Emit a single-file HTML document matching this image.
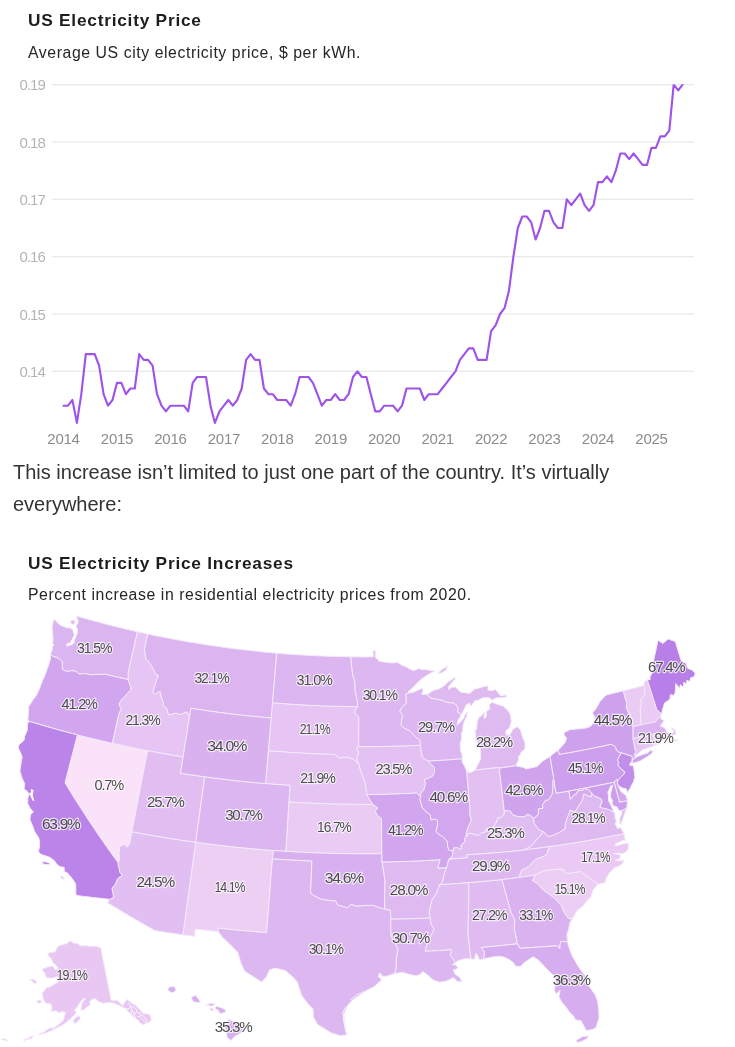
<!DOCTYPE html>
<html lang="en"><head><meta charset="utf-8"><title>US Electricity Price</title>
<style>
html,body{margin:0;padding:0;background:#fff}
body{width:735px;height:1047px;overflow:hidden;position:relative;font-family:"Liberation Sans",sans-serif;color:#222}
.t{position:absolute;left:28px;font-weight:bold;font-size:17.3px;line-height:20px;color:#1d1d1d;white-space:nowrap;letter-spacing:.76px}
.s{position:absolute;left:28px;font-size:15.8px;line-height:20px;color:#262626;white-space:nowrap;letter-spacing:.58px}
.p{position:absolute;left:13px;top:456.2px;width:640px;font-size:20px;line-height:32px;color:#333;margin:0}
svg{position:absolute;left:0;top:0}
.g line{stroke:#e3e3e3;stroke-width:1.05}
.yl text{font-size:15px;fill:#b4b4b4;text-anchor:end;letter-spacing:-1px}
.xl text{font-size:15px;fill:#8c8c8c;text-anchor:middle;letter-spacing:-.25px}
.st path{stroke:#f5eafb;stroke-width:1;stroke-linejoin:round}
.lb text{font-size:15px;fill:#4c4c4c;paint-order:stroke;stroke:rgba(255,255,255,.7);stroke-width:2.4px;stroke-linejoin:round;letter-spacing:-1.2px}
</style></head><body>
<div class="t" style="top:10px">US Electricity Price</div>
<div class="s" style="top:43px">Average US city electricity price, $ per kWh.</div>
<p class="p">This increase isn’t limited to just one part of the country. It’s virtually everywhere:</p>
<div class="t" style="top:553.1px">US Electricity Price Increases</div>
<div class="s" style="top:585px">Percent increase in residential electricity prices from 2020.</div>
<svg width="735" height="1047" viewBox="0 0 735 1047" font-family="Liberation Sans, sans-serif">
<g class="g"><line x1="52" x2="694" y1="371.3" y2="371.3"/><line x1="52" x2="694" y1="314.0" y2="314.0"/><line x1="52" x2="694" y1="256.7" y2="256.7"/><line x1="52" x2="694" y1="199.3" y2="199.3"/><line x1="52" x2="694" y1="142.0" y2="142.0"/><line x1="52" x2="694" y1="84.7" y2="84.7"/></g>
<g class="yl"><text x="44.8" y="376.9">0.14</text><text x="44.8" y="319.6">0.15</text><text x="44.8" y="262.3">0.16</text><text x="44.8" y="204.9">0.17</text><text x="44.8" y="147.6">0.18</text><text x="44.8" y="90.3">0.19</text></g>
<g class="xl"><text x="63.5" y="444.4">2014</text><text x="117.0" y="444.4">2015</text><text x="170.4" y="444.4">2016</text><text x="223.9" y="444.4">2017</text><text x="277.3" y="444.4">2018</text><text x="330.8" y="444.4">2019</text><text x="384.2" y="444.4">2020</text><text x="437.7" y="444.4">2021</text><text x="491.1" y="444.4">2022</text><text x="544.5" y="444.4">2023</text><text x="598.0" y="444.4">2024</text><text x="651.5" y="444.4">2025</text></g>
<clipPath id="cl"><rect x="50" y="84.3" width="660" height="350"/></clipPath><path d="M63.5,405.7L68.0,405.7L72.4,400.0L76.9,422.9L81.3,394.2L85.8,354.1L90.2,354.1L94.7,354.1L99.1,365.6L103.6,394.2L108.0,405.7L112.5,400.0L117.0,382.8L121.4,382.8L125.9,394.2L130.3,388.5L134.8,388.5L139.2,354.1L143.7,359.8L148.1,359.8L152.6,365.6L157.0,394.2L161.5,405.7L165.9,411.4L170.4,405.7L174.9,405.7L179.3,405.7L183.8,405.7L188.2,411.4L192.7,382.8L197.1,377.0L201.6,377.0L206.0,377.0L210.5,405.7L214.9,422.9L219.4,411.4L223.9,405.7L228.3,400.0L232.8,405.7L237.2,400.0L241.7,388.5L246.1,359.8L250.6,354.1L255.0,359.8L259.5,359.8L263.9,388.5L268.4,394.2L272.8,394.2L277.3,400.0L281.8,400.0L286.2,400.0L290.7,405.7L295.1,394.2L299.6,377.0L304.0,377.0L308.5,377.0L312.9,382.8L317.4,394.2L321.8,405.7L326.3,400.0L330.8,400.0L335.2,394.2L339.7,400.0L344.1,400.0L348.6,394.2L353.0,377.0L357.5,371.3L361.9,377.0L366.4,377.0L370.8,394.2L375.3,411.4L379.7,411.4L384.2,405.7L388.7,405.7L393.1,405.7L397.6,411.4L402.0,405.7L406.5,388.5L410.9,388.5L415.4,388.5L419.8,388.5L424.3,400.0L428.7,394.2L433.2,394.2L437.7,394.2L442.1,388.5L446.6,382.8L451.0,377.0L455.5,371.3L459.9,359.8L464.4,354.1L468.8,348.4L473.3,348.4L477.7,359.8L482.2,359.8L486.6,359.8L491.1,331.2L495.6,325.4L500.0,314.0L504.5,308.2L508.9,291.1L513.4,256.7L517.8,228.0L522.3,216.5L526.7,216.5L531.2,222.3L535.6,239.5L540.1,228.0L544.5,210.8L549.0,210.8L553.5,222.3L557.9,228.0L562.4,228.0L566.8,199.3L571.3,205.1L575.7,199.3L580.2,193.6L584.6,205.1L589.1,210.8L593.5,205.1L598.0,182.1L602.5,182.1L606.9,176.4L611.4,182.1L615.8,170.7L620.3,153.5L624.7,153.5L629.2,159.2L633.6,153.5L638.1,159.2L642.5,164.9L647.0,164.9L651.5,147.8L655.9,147.8L660.4,136.3L664.8,136.3L669.3,130.6L673.7,84.7L678.2,90.4L682.6,84.7" clip-path="url(#cl)" fill="none" stroke="#9f54e7" stroke-width="2.15" stroke-linejoin="round" stroke-linecap="round"/>
<g class="st"><path d="M77.4,734.9L82.3,736.2L87.3,737.4L92.3,738.6L97.3,739.8L102.2,741.0L107.2,742.2L112.2,743.3L117.3,744.4L122.3,745.5L127.3,746.6L132.4,747.7L137.4,748.7L142.5,749.7L147.6,750.7L146.3,757.4L145.0,764.2L143.6,770.9L142.3,777.7L141.0,784.4L139.7,791.2L138.4,797.9L137.1,804.7L135.8,811.4L134.5,818.2L133.2,824.9L131.9,831.7L129.4,844.7L126.9,847.2L124.7,844.6L119.9,845.9L119.1,852.8L119.3,860.4L118.1,862.7L114.5,857.7L111.0,852.8L107.5,847.9L104.0,842.9L100.6,838.0L97.2,833.0L93.9,828.0L90.5,823.0L87.2,818.0L84.0,813.0L80.7,808.0L77.5,803.0L74.3,798.0L71.2,792.9L68.1,787.9L65.0,782.8L66.8,776.0L68.6,769.1L70.3,762.3L72.1,755.4L73.9,748.6L75.6,741.7Z" fill="#fae3f8"/><path d="M195.7,842.2L200.9,842.9L206.0,843.6L211.2,844.3L216.4,844.9L221.6,845.5L226.8,846.1L231.9,846.7L237.1,847.3L242.3,847.8L247.5,848.3L252.7,848.8L257.9,849.2L263.1,849.7L268.3,850.1L273.5,850.5L272.4,858.7L271.9,865.4L271.3,872.1L270.8,878.9L270.3,885.6L269.8,892.3L269.3,899.1L268.7,905.8L268.2,912.5L267.7,919.2L267.2,925.9L266.6,932.6L260.5,932.2L254.4,931.7L248.3,931.1L242.1,930.6L236.0,930.0L229.9,929.4L223.8,928.7L217.7,928.1L218.5,931.8L212.8,931.1L207.0,930.5L201.2,929.8L195.4,929.0L194.5,936.4L188.7,935.6L182.9,934.8L183.8,928.2L184.7,921.6L185.6,915.0L186.5,908.4L187.5,901.8L188.4,895.2L189.3,888.6L190.2,882.0L191.1,875.4L192.0,868.7L192.9,862.1L193.9,855.5L194.8,848.9Z" fill="#edcff4"/><path d="M534.9,875.2L543.6,870.7L549.6,870.1L555.6,869.4L561.6,868.8L561.8,870.4L563.1,869.4L565.8,873.6L573.2,872.6L580.5,871.5L586.3,875.7L592.1,879.9L598.0,884.1L592.9,890.2L591.3,896.4L587.2,900.4L583.2,905.8L577.1,910.5L574.2,915.6L572.2,919.1L568.4,918.6L563.3,911.0L560.9,904.7L553.7,897.8L549.0,894.0L543.8,890.6L537.4,883.5L532.3,880.6Z" fill="#eccdf4"/><path d="M288.9,801.9L294.2,802.2L299.4,802.5L304.6,802.8L309.8,803.0L315.1,803.2L320.3,803.5L325.5,803.6L330.7,803.8L336.0,803.9L341.2,804.0L346.4,804.1L351.7,804.2L356.9,804.2L362.1,804.3L367.4,804.3L372.6,804.2L377.7,807.8L375.3,811.6L377.8,815.7L381.5,818.8L381.6,825.8L381.6,832.8L381.7,839.7L381.8,846.7L381.9,853.7L376.5,853.8L371.2,853.8L365.8,853.8L360.5,853.8L355.2,853.8L349.8,853.7L344.5,853.7L339.1,853.6L333.8,853.4L328.5,853.3L323.1,853.1L317.8,852.9L312.5,852.7L307.1,852.5L301.8,852.2L296.4,852.0L291.1,851.7L285.8,851.3L286.2,844.3L286.7,837.2L287.1,830.1L287.6,823.1L288.0,816.0L288.5,808.9Z" fill="#eacbf4"/><path d="M623.3,690.8L628.4,689.5L633.6,688.2L638.7,686.9L643.9,685.5L644.3,687.3L644.5,692.3L645.3,694.0L644.2,695.8L640.8,699.2L641.2,700.8L641.5,704.1L640.2,708.7L640.5,714.6L640.8,718.2L640.8,723.0L642.3,724.6L637.6,725.6L632.9,726.6L631.4,720.2L630.0,713.8L628.5,713.0L627.3,710.2L626.2,707.1L626.7,702.8L624.8,697.3Z" fill="#eacbf4"/><path d="M643.9,685.5L644.2,682.2L647.3,679.7L649.3,686.0L651.3,692.2L653.6,699.3L655.8,706.3L656.6,709.5L659.0,711.4L661.2,713.9L660.7,717.4L658.6,718.0L656.3,720.8L655.9,721.6L649.1,723.1L642.3,724.6L640.8,723.0L640.8,718.2L640.5,714.6L640.2,708.7L641.5,704.1L641.2,700.8L640.8,699.2L644.2,695.8L645.3,694.0L644.5,692.3L644.3,687.3Z" fill="#eacbf4"/><path d="M518.8,877.5L521.5,870.3L528.4,866.6L535.4,859.3L539.1,858.0L546.0,855.3L549.6,846.6L555.0,845.8L560.3,845.0L565.6,844.2L571.0,843.3L576.3,842.5L581.6,841.6L587.0,840.7L592.3,839.7L597.6,838.8L602.9,837.8L608.2,836.8L613.5,835.7L618.8,834.7L624.1,833.6L624.6,837.7L625.5,840.6L623.1,840.1L620.1,841.7L615.2,843.9L615.6,845.9L619.5,845.1L624.5,843.6L628.2,843.2L628.3,848.7L626.2,851.7L622.6,853.7L619.1,853.2L613.1,853.6L617.4,854.4L620.8,854.9L619.6,858.7L615.2,860.3L620.1,861.1L623.9,859.8L622.6,863.4L619.7,865.7L614.6,867.6L609.5,872.8L605.6,879.5L605.3,882.6L598.0,884.1L592.1,879.9L586.3,875.7L580.5,871.5L573.2,872.6L565.8,873.6L563.1,869.4L561.8,870.4L561.6,868.8L555.6,869.4L549.6,870.1L543.6,870.7L534.9,875.2L529.5,876.0L524.2,876.7Z" fill="#eacaf4"/><path d="M100.8,947.9L98.0,947.1L95.4,946.2L92.9,946.3L90.4,946.4L87.9,946.1L85.4,945.7L83.0,945.8L80.5,945.8L77.5,943.6L75.6,943.4L73.7,943.1L71.8,942.0L70.0,940.8L67.0,943.4L65.0,944.0L63.0,944.5L59.1,945.8L56.6,948.6L55.8,951.1L52.9,952.6L49.3,952.4L47.5,955.1L50.0,957.3L51.8,959.6L53.0,963.3L55.3,964.5L56.9,966.7L58.5,968.9L55.4,969.7L52.6,966.1L49.7,966.7L46.8,967.2L44.2,968.6L41.5,969.9L45.0,973.0L45.4,976.2L47.6,977.8L50.1,978.0L52.5,978.2L57.2,976.5L58.0,978.3L57.6,982.5L54.0,984.4L51.2,986.4L46.5,987.8L43.7,991.4L42.0,993.4L42.8,996.5L43.4,999.8L46.2,1003.4L50.5,1003.7L51.9,1006.8L51.8,1009.7L50.5,1011.8L55.8,1010.7L59.8,1013.1L61.4,1011.4L65.8,1012.6L64.4,1015.9L63.6,1019.9L60.3,1023.2L57.1,1025.6L53.8,1028.0L49.6,1028.2L46.1,1030.2L43.8,1032.4L39.0,1033.5L39.5,1034.6L45.0,1033.5L48.6,1031.7L52.0,1030.4L55.4,1028.7L60.7,1025.9L65.3,1023.3L68.5,1020.3L71.6,1017.8L74.0,1015.3L76.7,1012.2L74.1,1010.5L77.5,1006.7L79.4,1003.2L81.1,1001.2L82.6,999.4L85.6,998.1L84.9,999.8L82.2,1002.0L81.3,1007.2L80.6,1010.1L83.7,1010.0L87.3,1006.6L90.3,1005.2L89.7,1001.5L92.6,999.2L95.3,998.4L97.8,1001.3L100.6,1002.3L103.1,1003.4L107.2,1002.5L110.4,1002.5L113.8,1003.2L116.0,1003.9L119.4,1005.5L121.8,1006.7L126.4,1009.1L127.6,1011.2L130.4,1013.4L132.5,1016.0L135.4,1018.7L137.8,1019.5L140.2,1023.0L144.0,1024.9L146.4,1022.7L149.5,1022.6L151.4,1019.1L149.9,1015.3L149.2,1014.3L145.7,1013.9L143.0,1013.6L141.5,1011.4L140.2,1010.0L135.3,1005.1L132.1,1003.6L128.8,1000.7L127.0,999.4L124.9,1002.1L122.7,1005.6L118.0,1001.1L116.4,1000.3L112.6,1000.4L111.1,1000.3L110.0,994.4L108.8,988.6L107.7,982.7L106.5,976.9L105.4,971.0L104.2,965.2L103.0,959.4L101.9,953.6ZM72.8,1021.1L75.3,1023.7L79.0,1020.5L80.4,1018.7L79.2,1015.9L77.1,1016.5L74.6,1018.5ZM36.9,1000.6L40.5,1000.1L41.5,1002.1L39.6,1003.5L36.9,1002.1ZM29.8,979.4L33.8,979.3L37.2,982.5L34.6,983.6L31.6,980.8ZM27.4,1038.7L31.7,1036.1L33.7,1036.5L31.2,1038.7L27.6,1039.4ZM23.0,1040.7L27.2,1037.8L27.8,1038.5L24.5,1040.7ZM0.9,1039.3L5.5,1038.9L8.5,1041.0L5.0,1040.6ZM-8.8,1037.9L-4.0,1038.2L-2.1,1039.4L-5.9,1039.3ZM-15.0,1037.1L-8.7,1036.7L-8.8,1037.9L-13.2,1038.4ZM-36.1,1017.5L-33.3,1018.8L-33.2,1020.1L-35.9,1018.6ZM-20.8,1035.2L-17.9,1034.6L-17.7,1035.3L-20.6,1035.6Z" fill="#e8c7f3"/><path d="M632.9,738.5L637.9,737.4L642.9,736.3L647.9,735.1L652.9,734.0L655.4,743.5L655.1,745.3L649.5,747.6L643.1,749.6L639.9,752.0L635.1,756.1L633.8,754.4L636.4,752.0L635.2,750.6Z" fill="#e6c5f3"/><path d="M652.9,734.0L657.8,732.7L658.3,734.6L659.4,736.4L661.3,737.5L663.1,740.2L661.1,741.2L659.4,738.6L659.5,742.5L659.4,743.5L655.1,745.3L655.4,743.5Z" fill="#e6c5f3"/><path d="M272.4,702.7L277.2,703.1L281.9,703.5L286.6,703.8L291.3,704.2L296.1,704.5L300.8,704.8L305.5,705.0L310.3,705.3L315.0,705.5L319.7,705.7L324.5,705.9L329.2,706.0L333.9,706.2L338.7,706.3L343.4,706.4L348.2,706.5L352.9,706.5L357.6,706.6L354.4,712.1L358.8,717.1L358.8,724.4L358.8,731.8L358.7,739.2L358.7,746.6L356.9,747.4L358.7,753.2L356.5,758.9L358.6,763.2L356.5,762.2L353.3,759.2L347.3,757.0L340.1,758.3L334.3,754.4L329.2,754.3L324.1,754.1L319.0,753.9L314.0,753.7L308.9,753.5L303.8,753.2L298.8,752.9L293.7,752.6L288.6,752.3L283.5,751.9L278.5,751.6L273.4,751.2L268.4,750.8L268.9,744.2L269.5,737.7L270.0,731.1L270.6,724.6L271.1,718.0L271.8,710.4Z" fill="#e6c4f3"/><path d="M137.3,631.7L142.5,632.8L147.7,634.0L146.0,642.0L144.3,650.1L146.1,659.3L150.0,663.4L153.0,668.2L155.8,674.6L158.5,675.1L156.0,682.1L154.3,687.6L152.7,692.1L155.4,694.0L160.1,691.4L161.6,698.2L163.7,702.7L163.2,705.6L166.8,708.3L168.6,714.9L175.4,713.1L180.5,714.5L185.3,712.2L187.3,712.3L189.5,716.8L188.4,723.5L187.4,730.2L186.3,736.9L185.2,743.5L184.2,750.2L183.1,756.9L178.0,756.1L172.9,755.3L167.9,754.4L162.8,753.5L157.7,752.6L152.6,751.6L147.6,750.7L142.5,749.7L137.4,748.7L132.4,747.7L127.3,746.6L122.3,745.5L117.3,744.4L112.2,743.3L113.9,735.9L115.6,728.4L117.2,721.0L118.9,713.6L121.2,708.7L120.1,707.2L119.1,703.6L121.9,699.2L124.9,696.5L127.7,692.9L130.8,690.2L130.6,686.8L128.9,682.3L127.9,679.5L128.2,676.3L128.0,672.5L129.6,665.7L131.1,658.9L132.7,652.1L134.3,645.3L135.8,638.5Z" fill="#e6c4f3"/><path d="M268.4,750.8L273.4,751.2L278.5,751.6L283.5,751.9L288.6,752.3L293.7,752.6L298.8,752.9L303.8,753.2L308.9,753.5L314.0,753.7L319.0,753.9L324.1,754.1L329.2,754.3L334.3,754.4L340.1,758.3L347.3,757.0L353.3,759.2L356.5,762.2L358.6,763.2L359.8,768.0L362.8,776.2L364.9,782.8L365.9,787.8L366.8,794.7L369.6,799.3L372.6,804.2L367.4,804.3L362.1,804.3L356.9,804.2L351.7,804.2L346.4,804.1L341.2,804.0L336.0,803.9L330.7,803.8L325.5,803.6L320.3,803.5L315.1,803.2L309.8,803.0L304.6,802.8L299.4,802.5L294.2,802.2L288.9,801.9L289.5,793.6L290.0,785.4L285.1,785.1L280.2,784.7L275.3,784.4L270.4,784.0L265.6,783.6L266.1,777.0L266.7,770.4L267.2,763.9L267.8,757.3Z" fill="#e5c3f2"/><path d="M358.7,746.6L363.5,746.6L368.2,746.6L373.0,746.6L377.7,746.5L382.5,746.4L387.2,746.4L392.0,746.2L396.7,746.1L401.5,746.0L406.2,745.8L411.0,745.6L415.7,745.4L420.4,745.2L421.3,751.7L422.5,757.4L428.2,761.2L431.0,764.4L434.5,767.5L434.5,772.4L432.6,776.2L429.6,777.7L424.3,779.6L425.7,783.7L424.1,789.3L420.7,793.8L420.6,796.6L416.6,793.0L411.6,793.3L406.6,793.5L401.7,793.7L396.7,793.9L391.7,794.1L386.7,794.3L381.8,794.4L376.8,794.5L371.8,794.6L366.8,794.7L365.9,787.8L364.9,782.8L362.8,776.2L359.8,768.0L358.6,763.2L356.5,758.9L358.7,753.2L356.9,747.4Z" fill="#e3c1f2"/><path d="M466.5,770.7L469.1,772.7L473.0,771.4L475.0,769.9L479.9,769.4L484.7,768.9L489.5,768.4L494.3,767.8L499.1,767.3L499.2,768.3L500.1,775.4L500.9,782.5L501.8,789.6L502.6,796.7L503.4,803.8L504.3,810.9L504.3,814.2L500.3,818.0L497.7,817.8L496.9,821.7L494.1,825.8L492.3,830.5L489.3,830.8L486.7,828.1L485.2,832.1L481.7,832.9L477.8,835.6L471.6,833.4L467.4,834.0L467.2,836.5L465.9,836.3L466.5,831.3L468.6,826.1L471.3,820.1L469.5,814.5L470.0,810.3L469.4,803.7L468.8,797.1L468.2,790.5L467.7,783.9L467.1,777.3Z" fill="#e3c0f2"/><path d="M131.9,831.7L137.2,832.7L142.5,833.7L147.8,834.7L153.1,835.6L158.4,836.5L163.7,837.4L169.0,838.3L174.4,839.1L179.7,839.9L185.0,840.7L190.3,841.5L195.7,842.2L194.8,848.9L193.9,855.5L192.9,862.1L192.0,868.7L191.1,875.4L190.2,882.0L189.3,888.6L188.4,895.2L187.5,901.8L186.5,908.4L185.6,915.0L184.7,921.6L183.8,928.2L182.9,934.8L177.3,934.0L171.8,933.2L166.2,932.4L160.6,931.5L155.1,930.7L149.7,927.6L144.4,924.6L139.0,921.5L133.7,918.5L128.5,915.4L123.2,912.2L118.0,909.1L112.8,905.9L107.6,902.7L109.5,899.3L113.3,897.8L113.2,894.8L112.0,888.3L115.4,884.0L117.7,878.5L122.3,875.2L119.7,872.2L119.4,869.6L118.2,866.0L118.1,862.7L119.3,860.4L119.1,852.8L119.9,845.9L124.7,844.6L126.9,847.2L129.4,844.7Z" fill="#e2bff2"/><path d="M439.7,884.6L445.3,884.2L450.8,883.8L456.4,883.5L462.0,883.0L467.5,882.6L469.0,884.1L468.9,891.2L468.8,898.3L468.6,905.4L468.5,912.5L468.3,919.6L468.2,926.7L468.0,933.8L469.0,942.1L470.0,950.4L471.0,958.7L463.9,958.9L457.7,960.9L455.3,963.0L453.4,959.5L450.3,955.3L451.6,949.8L445.0,950.2L438.3,950.6L431.7,950.9L425.1,951.3L426.0,947.1L427.9,941.9L431.0,935.4L434.1,929.1L431.1,924.7L430.0,918.1L429.1,911.6L430.2,906.6L431.9,899.9L436.5,893.0L438.0,888.8Z" fill="#e2bff2"/><path d="M504.3,810.9L508.3,810.4L511.0,811.7L512.6,814.8L518.3,816.6L524.3,816.7L527.8,814.0L532.3,816.7L533.7,818.4L534.2,823.3L537.4,827.5L539.3,830.1L543.6,831.6L540.0,836.2L535.4,841.0L533.7,842.9L530.6,846.6L524.0,850.0L518.2,850.7L512.5,851.3L506.8,851.8L500.3,852.4L493.8,852.9L487.3,853.4L480.5,853.9L473.7,854.4L466.9,854.8L467.2,857.8L461.0,858.3L454.8,858.7L448.6,859.2L452.3,856.4L452.9,850.9L453.7,847.7L457.8,847.7L459.6,848.9L461.3,848.8L460.8,845.0L464.6,841.9L464.8,838.1L465.9,836.3L467.2,836.5L467.4,834.0L471.6,833.4L477.8,835.6L481.7,832.9L485.2,832.1L486.7,828.1L489.3,830.8L492.3,830.5L494.1,825.8L496.9,821.7L497.7,817.8L500.3,818.0L504.3,814.2Z" fill="#e1bef2"/><path d="M147.6,750.7L152.6,751.6L157.7,752.6L162.8,753.5L167.9,754.4L172.9,755.3L178.0,756.1L183.1,756.9L181.8,765.1L180.5,773.2L185.3,774.0L190.2,774.7L195.0,775.4L199.9,776.1L204.7,776.8L203.8,783.3L202.9,789.9L202.0,796.4L201.1,803.0L200.2,809.5L199.3,816.1L198.4,822.6L197.5,829.2L196.6,835.7L195.7,842.2L190.3,841.5L185.0,840.7L179.7,839.9L174.4,839.1L169.0,838.3L163.7,837.4L158.4,836.5L153.1,835.6L147.8,834.7L142.5,833.7L137.2,832.7L131.9,831.7L133.2,824.9L134.5,818.2L135.8,811.4L137.1,804.7L138.4,797.9L139.7,791.2L141.0,784.4L142.3,777.7L143.6,770.9L145.0,764.2L146.3,757.4Z" fill="#e1bdf2"/><path d="M467.5,882.6L473.3,882.2L479.0,881.7L484.8,881.2L490.5,880.7L496.2,880.2L502.0,879.6L503.8,886.4L505.7,893.2L507.6,900.0L509.5,906.8L511.5,913.5L514.9,919.8L514.4,929.3L515.8,935.7L517.4,943.8L511.4,944.5L505.4,945.1L499.4,945.8L493.4,946.4L487.3,946.9L481.3,947.5L484.5,952.1L484.2,956.3L483.5,959.1L479.6,960.0L477.8,956.0L476.2,953.2L475.0,956.3L474.9,959.6L471.0,958.7L470.0,950.4L469.0,942.1L468.0,933.8L468.2,926.7L468.3,919.6L468.5,912.5L468.6,905.4L468.8,898.3L468.9,891.2L469.0,884.1Z" fill="#e0bbf1"/><path d="M382.0,861.9L387.3,861.9L392.6,861.7L397.9,861.6L403.2,861.5L408.4,861.3L413.7,861.1L419.0,860.9L424.3,860.6L429.6,860.3L434.9,860.0L440.2,859.7L437.8,868.1L446.6,867.6L443.8,875.2L442.6,882.2L439.7,884.6L438.0,888.8L436.5,893.0L431.9,899.9L430.2,906.6L429.1,911.6L430.0,918.1L424.4,918.3L418.8,918.5L413.2,918.7L407.6,918.9L401.9,919.0L396.3,919.1L390.7,919.2L390.5,910.5L384.6,909.1L384.6,901.9L384.7,894.7L384.7,887.4L384.8,880.2L383.4,871.1Z" fill="#dfbaf1"/><path d="M543.6,831.6L540.0,836.2L535.4,841.0L533.7,842.9L530.6,846.6L524.0,850.0L530.4,849.2L536.8,848.4L543.2,847.5L549.6,846.6L555.0,845.8L560.3,845.0L565.6,844.2L571.0,843.3L576.3,842.5L581.6,841.6L587.0,840.7L592.3,839.7L597.6,838.8L602.9,837.8L608.2,836.8L613.5,835.7L618.8,834.7L624.1,833.6L622.1,830.6L621.1,827.8L617.3,828.3L616.4,826.0L615.1,824.2L616.4,820.9L615.1,818.1L614.8,813.3L613.9,812.1L609.4,809.7L604.0,808.3L599.9,807.4L602.0,801.9L601.7,799.5L598.6,797.6L595.1,796.2L591.8,793.5L591.0,796.9L583.8,793.9L582.4,800.2L579.2,805.1L574.8,812.0L570.1,809.9L569.8,812.2L567.4,816.8L565.3,823.8L564.9,828.9L558.4,832.8L553.7,835.1L548.1,836.6ZM626.8,808.0L622.0,810.4L621.8,813.8L619.8,818.5L619.8,822.7L620.9,824.7L622.2,820.5L623.8,815.9L625.6,810.8Z" fill="#dfbaf1"/><path d="M475.0,769.9L478.3,763.9L480.8,758.7L480.6,750.4L478.1,744.1L475.3,738.6L475.9,733.6L475.0,731.8L476.8,728.5L477.1,722.2L478.7,717.6L481.6,715.7L484.1,712.1L484.3,718.7L486.4,716.8L486.1,711.9L490.1,708.6L489.1,704.6L492.2,702.3L495.6,703.7L500.1,705.3L503.5,706.2L508.7,711.4L510.7,715.4L511.2,721.7L509.5,728.0L505.7,731.0L506.2,735.1L509.8,735.1L512.6,729.6L517.0,726.7L520.4,729.8L522.6,737.0L525.0,743.3L524.9,749.1L521.1,752.2L520.3,755.1L518.6,756.2L518.5,760.0L515.7,765.7L510.2,766.6L504.7,767.4L499.2,768.3L499.1,767.3L494.3,767.8L489.5,768.4L484.7,768.9L479.9,769.4ZM426.9,694.5L433.7,690.3L439.2,688.8L443.5,686.3L448.2,681.9L454.3,677.8L455.8,678.5L451.1,683.3L448.6,686.8L448.8,689.7L451.5,687.3L455.4,687.0L460.9,692.3L465.5,692.7L469.6,693.6L474.3,689.3L476.7,688.7L484.2,686.6L488.0,685.8L488.0,690.3L492.6,690.6L495.3,689.4L498.6,693.1L500.7,696.1L505.6,694.7L506.5,697.0L501.4,697.7L496.3,697.8L492.3,700.1L488.8,697.6L483.1,697.7L477.7,700.5L474.9,700.7L471.9,705.2L470.2,706.1L469.9,702.9L466.1,704.9L464.7,708.3L462.7,711.8L460.8,716.1L459.9,712.9L457.6,712.2L457.8,708.1L457.0,705.7L453.9,703.2L445.8,702.0L442.3,700.5L436.4,699.3L430.5,698.0ZM438.1,673.2L442.2,669.3L447.5,666.1L446.2,669.8L441.4,673.1Z" fill="#dfbaf1"/><path d="M408.8,693.1L413.5,692.2L417.9,690.1L421.7,688.4L422.9,689.0L423.0,690.9L421.5,694.3L425.5,694.4L426.9,694.5L430.5,698.0L436.4,699.3L442.3,700.5L445.8,702.0L453.9,703.2L457.0,705.7L457.8,708.1L457.6,712.2L459.9,712.9L460.8,716.1L458.2,719.6L456.9,725.4L459.6,722.7L463.4,719.1L464.7,714.9L467.4,712.2L466.8,716.0L464.7,720.6L463.5,724.0L462.9,726.6L462.7,731.5L461.6,732.4L461.6,738.2L460.1,744.1L460.5,750.2L462.1,755.0L462.2,758.8L457.3,759.2L452.5,759.6L447.6,760.0L442.8,760.3L437.9,760.6L433.1,760.9L428.2,761.2L422.5,757.4L421.3,751.7L420.4,745.2L419.8,740.3L415.1,736.4L410.3,731.2L404.4,728.3L401.1,725.5L401.5,720.5L402.5,714.8L399.7,711.6L401.6,707.4L406.2,703.5L405.8,694.0Z" fill="#ddb7f1"/><path d="M524.0,850.0L518.2,850.7L512.5,851.3L506.8,851.8L500.3,852.4L493.8,852.9L487.3,853.4L480.5,853.9L473.7,854.4L466.9,854.8L467.2,857.8L461.0,858.3L454.8,858.7L448.6,859.2L447.6,863.4L446.6,867.6L443.8,875.2L442.6,882.2L439.7,884.6L445.3,884.2L450.8,883.8L456.4,883.5L462.0,883.0L467.5,882.6L473.3,882.2L479.0,881.7L484.8,881.2L490.5,880.7L496.2,880.2L502.0,879.6L507.6,878.9L513.2,878.2L518.8,877.5L521.5,870.3L528.4,866.6L535.4,859.3L539.1,858.0L546.0,855.3L549.6,846.6L543.2,847.5L536.8,848.4L530.4,849.2Z" fill="#ddb7f0"/><path d="M272.4,858.7L278.0,859.1L283.7,859.5L289.3,859.8L295.0,860.1L300.6,860.5L306.3,860.7L311.9,861.0L311.6,869.0L311.3,877.0L310.9,885.0L310.6,893.0L314.5,895.8L321.1,899.1L329.1,900.4L335.8,900.9L337.7,905.0L347.8,907.7L351.2,904.1L355.9,906.1L364.0,905.5L373.5,905.3L378.9,907.4L384.6,909.1L390.5,910.5L390.7,919.2L390.9,927.6L391.1,936.0L394.5,942.5L398.2,949.3L396.3,958.8L396.3,967.9L394.7,973.6L386.1,976.3L382.5,976.3L381.1,980.4L374.1,986.7L366.9,990.3L358.2,996.0L352.4,1000.1L347.3,1005.7L343.8,1014.6L344.9,1024.4L346.9,1034.8L340.2,1035.7L331.4,1032.9L322.7,1027.6L317.6,1024.6L313.4,1017.1L313.0,1009.0L308.1,1003.9L301.9,995.8L299.4,988.8L297.5,982.2L292.8,977.0L285.3,970.4L274.8,968.1L269.4,970.0L266.3,977.0L261.7,981.9L252.8,976.4L244.6,971.2L241.1,963.4L237.8,952.4L230.2,944.6L222.5,937.4L218.5,931.8L217.7,928.1L223.8,928.7L229.9,929.4L236.0,930.0L242.1,930.6L248.3,931.1L254.4,931.7L260.5,932.2L266.6,932.6L267.2,925.9L267.7,919.2L268.2,912.5L268.7,905.8L269.3,899.1L269.8,892.3L270.3,885.6L270.8,878.9L271.3,872.1L271.9,865.4Z" fill="#ddb7f0"/><path d="M350.7,656.8L355.2,656.8L359.7,656.9L364.2,656.9L368.7,656.9L373.3,656.8L373.0,650.4L375.6,650.8L375.2,656.8L376.0,658.1L378.2,659.7L379.3,661.3L385.9,662.3L392.4,662.9L397.4,662.5L402.4,665.5L405.7,666.5L409.1,668.8L413.6,670.7L419.0,668.4L421.8,669.8L426.8,669.6L430.2,670.6L434.9,670.7L430.9,673.0L426.8,675.2L420.7,679.7L416.8,683.4L412.5,687.9L407.9,692.0L408.8,693.1L405.8,694.0L406.2,703.5L401.6,707.4L399.7,711.6L402.5,714.8L401.5,720.5L401.1,725.5L404.4,728.3L410.3,731.2L415.1,736.4L419.8,740.3L420.4,745.2L415.7,745.4L411.0,745.6L406.2,745.8L401.5,746.0L396.7,746.1L392.0,746.2L387.2,746.4L382.5,746.4L377.7,746.5L373.0,746.6L368.2,746.6L363.5,746.6L358.7,746.6L358.7,739.2L358.8,731.8L358.8,724.4L358.8,717.1L354.4,712.1L357.6,706.6L357.2,700.7L355.0,690.9L354.6,681.1L352.4,673.8L351.4,664.9Z" fill="#ddb7f0"/><path d="M204.7,776.8L209.8,777.5L214.8,778.2L219.9,778.8L225.0,779.4L230.0,780.0L235.1,780.6L240.2,781.2L245.2,781.7L250.3,782.2L255.4,782.7L260.5,783.1L265.6,783.6L270.4,784.0L275.3,784.4L280.2,784.7L285.1,785.1L290.0,785.4L289.5,793.6L288.9,801.9L288.5,808.9L288.0,816.0L287.6,823.1L287.1,830.1L286.7,837.2L286.2,844.3L285.8,851.3L279.7,850.9L273.5,850.5L268.3,850.1L263.1,849.7L257.9,849.2L252.7,848.8L247.5,848.3L242.3,847.8L237.1,847.3L231.9,846.7L226.8,846.1L221.6,845.5L216.4,844.9L211.2,844.3L206.0,843.6L200.9,842.9L195.7,842.2L196.6,835.7L197.5,829.2L198.4,822.6L199.3,816.1L200.2,809.5L201.1,803.0L202.0,796.4L202.9,789.9L203.8,783.3Z" fill="#dcb6f0"/><path d="M390.7,919.2L396.3,919.1L401.9,919.0L407.6,918.9L413.2,918.7L418.8,918.5L424.4,918.3L430.0,918.1L431.1,924.7L434.1,929.1L431.0,935.4L427.9,941.9L426.0,947.1L425.1,951.3L431.7,950.9L438.3,950.6L445.0,950.2L451.6,949.8L450.3,955.3L453.4,959.5L455.3,963.0L452.3,964.5L455.9,965.1L458.2,968.2L453.4,970.2L455.1,974.2L459.6,977.2L462.1,981.9L457.7,981.4L453.2,977.6L449.7,979.5L445.5,981.3L439.8,982.2L434.0,980.4L431.0,978.0L426.6,974.2L422.9,971.4L420.2,974.4L416.7,975.7L410.9,974.8L402.3,972.3L394.7,973.6L396.3,967.9L396.3,958.8L398.2,949.3L394.5,942.5L391.1,936.0L390.9,927.6Z" fill="#dcb6f0"/><path d="M276.6,653.2L281.0,653.5L285.3,653.9L289.7,654.2L294.0,654.5L298.4,654.8L302.7,655.0L307.1,655.3L311.4,655.5L315.8,655.7L320.1,655.9L324.5,656.1L328.9,656.3L333.2,656.4L337.6,656.5L341.9,656.6L346.3,656.7L350.7,656.8L351.4,664.9L352.4,673.8L354.6,681.1L355.0,690.9L357.2,700.7L357.6,706.6L352.9,706.5L348.2,706.5L343.4,706.4L338.7,706.3L333.9,706.2L329.2,706.0L324.5,705.9L319.7,705.7L315.0,705.5L310.3,705.3L305.5,705.0L300.8,704.8L296.1,704.5L291.3,704.2L286.6,703.8L281.9,703.5L277.2,703.1L272.4,702.7L273.0,695.6L273.6,688.5L274.2,681.4L274.8,674.3L275.4,667.3L276.0,660.2Z" fill="#dcb6f0"/><path d="M77.0,616.2L81.3,617.4L85.6,618.6L89.9,619.8L94.2,621.0L98.5,622.1L102.8,623.3L107.1,624.4L111.4,625.5L115.7,626.6L120.0,627.6L124.3,628.7L128.7,629.7L133.0,630.7L137.3,631.7L135.8,638.5L134.3,645.3L132.7,652.1L131.1,658.9L129.6,665.7L128.0,672.5L128.2,676.3L127.9,679.5L123.3,678.5L118.7,677.4L114.2,676.4L109.6,675.3L105.0,674.2L101.2,674.4L96.5,674.4L90.5,674.9L85.5,673.6L79.1,674.0L75.9,671.3L71.5,670.7L66.5,671.6L62.2,669.1L62.4,665.1L62.1,661.3L59.4,659.3L57.0,657.4L53.1,656.6L50.5,654.4L52.3,649.5L52.7,646.2L54.2,645.0L52.6,643.6L53.1,637.8L52.6,634.3L52.2,627.3L52.7,624.1L53.6,619.6L54.9,620.0L60.2,625.2L65.9,627.4L69.7,628.1L73.0,629.5L73.2,631.9L74.4,634.8L72.2,639.3L70.0,642.9L66.9,643.6L66.7,646.1L71.2,644.9L74.0,643.2L74.4,639.9L75.8,636.9L77.6,632.4L77.5,628.9L75.8,625.9L78.0,623.2L78.2,620.4L76.7,617.8ZM70.6,621.1L73.8,620.0L75.1,622.0L73.6,624.5L71.0,623.7Z" fill="#dbb5f0"/><path d="M147.7,634.0L152.0,634.9L156.3,635.8L160.5,636.6L164.8,637.5L169.0,638.3L173.3,639.1L177.6,639.9L181.9,640.7L186.1,641.4L190.4,642.2L194.7,642.9L199.0,643.6L203.3,644.3L207.6,645.0L211.9,645.6L216.2,646.2L220.5,646.8L224.8,647.4L229.1,648.0L233.4,648.6L237.7,649.1L242.0,649.6L246.4,650.1L250.7,650.6L255.0,651.1L259.3,651.5L263.7,652.0L268.0,652.4L272.3,652.8L276.6,653.2L276.0,660.2L275.4,667.3L274.8,674.3L274.2,681.4L273.6,688.5L273.0,695.6L272.4,702.7L271.8,710.4L271.1,718.0L266.4,717.6L261.7,717.2L256.9,716.7L252.2,716.3L247.5,715.8L242.7,715.3L238.0,714.7L233.3,714.2L228.6,713.6L223.8,713.0L219.1,712.4L214.4,711.7L209.7,711.1L205.0,710.4L200.3,709.7L195.6,709.0L190.9,708.2L189.5,716.8L187.3,712.3L185.3,712.2L180.5,714.5L175.4,713.1L168.6,714.9L166.8,708.3L163.2,705.6L163.7,702.7L161.6,698.2L160.1,691.4L155.4,694.0L152.7,692.1L154.3,687.6L156.0,682.1L158.5,675.1L155.8,674.6L153.0,668.2L150.0,663.4L146.1,659.3L144.3,650.1L146.0,642.0Z" fill="#dbb4f0"/><path d="M632.9,726.6L637.6,725.6L642.3,724.6L649.1,723.1L655.9,721.6L656.3,720.8L658.6,718.0L660.7,717.4L661.9,720.0L664.1,719.9L663.8,721.2L661.3,724.4L660.5,726.3L662.2,726.7L664.7,727.8L666.6,731.5L669.1,733.9L671.7,733.9L674.0,732.5L673.8,730.4L671.3,728.0L673.2,728.0L675.4,730.8L676.0,733.7L672.1,735.5L668.2,738.4L666.9,734.8L664.8,738.8L663.1,740.2L661.3,737.5L659.4,736.4L658.3,734.6L657.8,732.7L652.9,734.0L647.9,735.1L642.9,736.3L637.9,737.4L632.9,738.5ZM667.1,741.6L669.2,738.8L671.4,739.6L670.4,740.9ZM674.1,740.5L676.4,739.4L677.6,740.3L676.2,741.0Z" fill="#dab3f0"/><path d="M502.0,879.6L507.6,878.9L513.2,878.2L518.8,877.5L524.2,876.7L529.5,876.0L534.9,875.2L532.3,880.6L537.4,883.5L543.8,890.6L549.0,894.0L553.7,897.8L560.9,904.7L563.3,911.0L568.4,918.6L572.2,919.1L570.0,922.5L568.8,928.5L566.9,934.6L567.5,941.8L565.2,942.0L560.9,941.3L560.0,944.8L559.9,948.8L557.3,945.7L551.1,946.2L544.8,946.7L538.6,947.1L532.4,947.5L526.2,947.9L519.9,948.3L517.4,943.8L515.8,935.7L514.4,929.3L514.9,919.8L511.5,913.5L509.5,906.8L507.6,900.0L505.7,893.2L503.8,886.4Z" fill="#dab2f0"/><path d="M190.9,708.2L195.6,709.0L200.3,709.7L205.0,710.4L209.7,711.1L214.4,711.7L219.1,712.4L223.8,713.0L228.6,713.6L233.3,714.2L238.0,714.7L242.7,715.3L247.5,715.8L252.2,716.3L256.9,716.7L261.7,717.2L266.4,717.6L271.1,718.0L270.6,724.6L270.0,731.1L269.5,737.7L268.9,744.2L268.4,750.8L267.8,757.3L267.2,763.9L266.7,770.4L266.1,777.0L265.6,783.6L260.5,783.1L255.4,782.7L250.3,782.2L245.2,781.7L240.2,781.2L235.1,780.6L230.0,780.0L225.0,779.4L219.9,778.8L214.8,778.2L209.8,777.5L204.7,776.8L199.9,776.1L195.0,775.4L190.2,774.7L185.3,774.0L180.5,773.2L181.8,765.1L183.1,756.9L184.2,750.2L185.2,743.5L186.3,736.9L187.4,730.2L188.4,723.5L189.5,716.8Z" fill="#d9b1ef"/><path d="M273.5,850.5L279.7,850.9L285.8,851.3L291.1,851.7L296.4,852.0L301.8,852.2L307.1,852.5L312.5,852.7L317.8,852.9L323.1,853.1L328.5,853.3L333.8,853.4L339.1,853.6L344.5,853.7L349.8,853.7L355.2,853.8L360.5,853.8L365.8,853.8L371.2,853.8L376.5,853.8L381.9,853.7L382.0,861.9L383.4,871.1L384.8,880.2L384.7,887.4L384.7,894.7L384.6,901.9L384.6,909.1L378.9,907.4L373.5,905.3L364.0,905.5L355.9,906.1L351.2,904.1L347.8,907.7L337.7,905.0L335.8,900.9L329.1,900.4L321.1,899.1L314.5,895.8L310.6,893.0L310.9,885.0L311.3,877.0L311.6,869.0L311.9,861.0L306.3,860.7L300.6,860.5L295.0,860.1L289.3,859.8L283.7,859.5L278.0,859.1L272.4,858.7Z" fill="#d8b0ef"/><path d="M227.9,1018.6L232.2,1020.9L239.9,1025.4L244.3,1030.7L233.8,1037.2L231.1,1040.6L227.3,1037.7L225.3,1027.1L228.3,1023.0ZM215.2,1007.6L216.7,1006.3L222.1,1007.9L226.0,1010.3L225.2,1012.4L219.8,1013.6L218.3,1010.3L215.5,1009.2ZM206.0,1005.2L210.6,1003.5L214.9,1004.0L212.9,1006.0L206.8,1005.5ZM209.8,1008.4L212.1,1008.1L213.4,1010.0L211.1,1011.0ZM191.0,997.5L195.6,995.2L200.6,1001.9L198.3,1002.5L193.7,1001.9ZM167.8,989.5L169.3,987.1L172.4,986.3L175.4,987.5L175.7,990.7L173.1,992.6L170.0,992.0Z" fill="#d7afef"/><path d="M483.5,959.1L484.2,956.3L484.5,952.1L481.3,947.5L487.3,946.9L493.4,946.4L499.4,945.8L505.4,945.1L511.4,944.5L517.4,943.8L519.9,948.3L526.2,947.9L532.4,947.5L538.6,947.1L544.8,946.7L551.1,946.2L557.3,945.7L559.9,948.8L560.0,944.8L560.9,941.3L565.2,942.0L567.5,941.8L568.8,946.8L571.5,954.6L577.5,965.3L582.2,972.0L585.8,976.3L586.0,982.1L590.8,988.7L595.6,995.4L597.7,1001.6L598.8,1009.6L599.0,1018.3L597.2,1023.1L596.4,1027.3L592.3,1029.6L586.3,1030.6L581.0,1020.7L575.6,1019.9L573.6,1016.1L569.2,1011.9L566.3,1007.4L561.9,1002.3L558.9,996.9L560.1,990.2L556.3,994.0L554.3,990.2L556.0,981.7L553.6,975.5L548.6,970.7L542.8,964.6L538.6,960.2L533.2,956.7L528.6,959.8L523.9,962.8L520.1,966.6L515.0,966.0L514.0,963.2L509.3,959.5L503.4,956.9L497.6,956.2L487.9,957.9ZM576.8,1042.6L581.9,1041.2L586.9,1038.8L588.7,1035.9L582.7,1036.5L576.4,1040.1Z" fill="#d6aeef"/><path d="M553.7,778.2L552.7,782.4L552.8,787.9L552.1,794.2L548.6,799.8L545.5,800.3L542.4,804.9L542.9,808.2L538.5,808.8L538.1,814.7L533.7,818.4L534.2,823.3L537.4,827.5L539.3,830.1L543.6,831.6L548.1,836.6L553.7,835.1L558.4,832.8L564.9,828.9L565.3,823.8L567.4,816.8L569.8,812.2L570.1,809.9L574.8,812.0L579.2,805.1L582.4,800.2L583.8,793.9L591.0,796.9L591.8,793.5L589.8,790.9L588.7,789.4L584.7,788.7L582.5,790.3L577.8,790.6L576.2,794.3L574.3,794.3L570.4,799.5L568.9,791.0L562.5,792.1L556.1,793.2L554.9,785.7Z" fill="#d6adef"/><path d="M618.3,779.8L616.0,779.8L614.1,782.2L615.9,788.9L617.7,795.6L619.6,802.3L627.7,800.7L625.8,795.2L621.2,792.0L618.9,787.4L617.4,783.5Z" fill="#d3a8ee"/><path d="M428.2,761.2L433.1,760.9L437.9,760.6L442.8,760.3L447.6,760.0L452.5,759.6L457.3,759.2L462.2,758.8L462.1,762.1L464.6,766.0L465.5,768.8L466.5,770.7L467.1,777.3L467.7,783.9L468.2,790.5L468.8,797.1L469.4,803.7L470.0,810.3L469.5,814.5L471.3,820.1L468.6,826.1L466.5,831.3L465.9,836.3L464.8,838.1L464.6,841.9L460.8,845.0L461.3,848.8L459.6,848.9L457.8,847.7L453.7,847.7L452.9,850.9L448.6,850.1L447.5,846.0L447.4,841.9L443.0,836.7L439.3,835.0L435.9,831.5L437.6,824.8L437.4,820.3L434.1,819.2L431.0,820.1L430.1,814.8L425.9,811.7L422.0,807.5L421.2,804.0L419.7,799.6L420.6,796.6L420.7,793.8L424.1,789.3L425.7,783.7L424.3,779.6L429.6,777.7L432.6,776.2L434.5,772.4L434.5,767.5L431.0,764.4Z" fill="#d2a7ee"/><path d="M50.5,654.4L53.1,656.6L57.0,657.4L59.4,659.3L62.1,661.3L62.4,665.1L62.2,669.1L66.5,671.6L71.5,670.7L75.9,671.3L79.1,674.0L85.5,673.6L90.5,674.9L96.5,674.4L101.2,674.4L105.0,674.2L109.6,675.3L114.2,676.4L118.7,677.4L123.3,678.5L127.9,679.5L128.9,682.3L130.6,686.8L130.8,690.2L127.7,692.9L124.9,696.5L121.9,699.2L119.1,703.6L120.1,707.2L121.2,708.7L118.9,713.6L117.2,721.0L115.6,728.4L113.9,735.9L112.2,743.3L107.2,742.2L102.2,741.0L97.3,739.8L92.3,738.6L87.3,737.4L82.3,736.2L77.4,734.9L72.5,733.6L67.6,732.3L62.6,731.0L57.7,729.6L52.9,728.3L48.0,726.9L43.1,725.5L38.2,724.0L33.3,722.6L28.5,721.1L27.8,719.5L28.5,713.4L28.6,706.7L32.8,700.1L36.5,695.2L39.0,689.9L42.8,679.9L45.2,674.7L47.9,666.9L50.5,659.2Z" fill="#d1a6ee"/><path d="M366.8,794.7L371.8,794.6L376.8,794.5L381.8,794.4L386.7,794.3L391.7,794.1L396.7,793.9L401.7,793.7L406.6,793.5L411.6,793.3L416.6,793.0L420.6,796.6L419.7,799.6L421.2,804.0L422.0,807.5L425.9,811.7L430.1,814.8L431.0,820.1L434.1,819.2L437.4,820.3L437.6,824.8L435.9,831.5L439.3,835.0L443.0,836.7L447.4,841.9L447.5,846.0L448.6,850.1L452.9,850.9L452.3,856.4L448.6,859.2L447.6,863.4L446.6,867.6L437.8,868.1L440.2,859.7L434.9,860.0L429.6,860.3L424.3,860.6L419.0,860.9L413.7,861.1L408.4,861.3L403.2,861.5L397.9,861.6L392.6,861.7L387.3,861.9L382.0,861.9L381.9,853.7L381.8,846.7L381.7,839.7L381.6,832.8L381.6,825.8L381.5,818.8L377.8,815.7L375.3,811.6L377.7,807.8L372.6,804.2L369.6,799.3Z" fill="#d1a6ee"/><path d="M499.2,768.3L504.7,767.4L510.2,766.6L515.7,765.7L521.3,767.1L524.9,767.6L525.3,769.0L531.5,767.8L537.2,766.5L542.0,761.6L547.0,758.3L550.1,756.4L551.3,763.7L552.5,771.0L553.7,778.2L552.7,782.4L552.8,787.9L552.1,794.2L548.6,799.8L545.5,800.3L542.4,804.9L542.9,808.2L538.5,808.8L538.1,814.7L533.7,818.4L532.3,816.7L527.8,814.0L524.3,816.7L518.3,816.6L512.6,814.8L511.0,811.7L508.3,810.4L504.3,810.9L503.4,803.8L502.6,796.7L501.8,789.6L500.9,782.5L500.1,775.4Z" fill="#d0a4ed"/><path d="M558.3,750.2L565.0,742.7L566.7,738.2L564.3,735.3L563.9,732.7L569.9,729.7L574.7,729.2L579.4,728.8L584.2,728.5L590.4,726.5L592.8,723.5L596.0,721.5L594.3,716.0L592.4,713.0L595.8,709.0L597.5,706.1L600.1,701.3L605.8,695.4L607.8,694.6L613.0,693.3L618.1,692.1L623.3,690.8L624.8,697.3L626.7,702.8L626.2,707.1L627.3,710.2L628.5,713.0L630.0,713.8L631.4,720.2L632.9,726.6L632.9,738.5L635.2,750.6L636.4,752.0L633.8,754.4L635.1,756.1L634.1,759.1L632.6,759.7L631.9,761.6L629.9,765.5L630.0,763.2L631.9,761.6L632.2,756.4L626.8,754.7L621.4,752.8L618.6,752.0L616.2,750.0L615.6,747.2L612.3,744.9L611.3,744.3L606.6,745.3L601.9,746.4L597.1,747.3L592.4,748.3L587.6,749.3L582.9,750.2L578.1,751.1L573.4,752.0L568.6,752.9L563.9,753.7L559.1,754.6ZM632.0,763.3L635.5,762.6L640.8,760.7L646.3,757.3L650.6,754.3L656.1,749.3L653.6,751.2L651.0,751.0L651.4,749.0L647.7,753.0L641.9,754.8L637.3,756.6L634.5,758.4L632.7,760.1Z" fill="#cea1ed"/><path d="M550.1,756.4L554.6,752.8L558.3,750.2L559.1,754.6L563.9,753.7L568.6,752.9L573.4,752.0L578.1,751.1L582.9,750.2L587.6,749.3L592.4,748.3L597.1,747.3L601.9,746.4L606.6,745.3L611.3,744.3L612.3,744.9L615.6,747.2L616.2,750.0L618.6,752.0L621.4,752.8L619.5,756.0L617.5,760.3L619.0,762.0L617.8,765.2L620.3,767.7L622.0,769.8L624.7,771.7L624.2,773.9L621.3,776.7L618.3,779.8L616.0,779.8L614.1,782.2L609.1,783.3L604.1,784.3L599.1,785.3L594.1,786.3L589.0,787.3L584.0,788.3L579.0,789.2L574.0,790.1L568.9,791.0L562.5,792.1L556.1,793.2L554.9,785.7L553.7,778.2L552.5,771.0L551.3,763.7Z" fill="#cda0ed"/><path d="M568.9,791.0L574.0,790.1L579.0,789.2L584.0,788.3L589.0,787.3L594.1,786.3L599.1,785.3L604.1,784.3L609.1,783.3L614.1,782.2L615.9,788.9L617.7,795.6L619.6,802.3L627.7,800.7L627.1,804.2L626.8,808.0L622.0,810.4L619.2,810.7L616.6,806.5L613.9,806.2L612.0,803.2L612.5,800.6L610.5,797.2L610.8,792.5L612.0,788.0L612.6,784.9L610.9,785.8L609.1,789.5L607.8,792.3L608.5,795.6L608.5,800.6L611.3,805.9L613.1,810.4L613.9,812.1L609.4,809.7L604.0,808.3L599.9,807.4L602.0,801.9L601.7,799.5L598.6,797.6L595.1,796.2L591.8,793.5L589.8,790.9L588.7,789.4L584.7,788.7L582.5,790.3L577.8,790.6L576.2,794.3L574.3,794.3L570.4,799.5Z" fill="#cc9eec"/><path d="M621.4,752.8L626.8,754.7L632.2,756.4L631.9,761.6L630.0,763.2L629.9,765.5L633.1,765.6L634.0,769.6L634.9,777.0L633.2,782.5L632.1,784.3L629.6,789.2L627.4,792.6L626.3,788.8L622.9,788.2L618.6,785.8L617.3,783.0L618.3,779.8L621.3,776.7L624.2,773.9L624.7,771.7L622.0,769.8L620.3,767.7L617.8,765.2L619.0,762.0L617.5,760.3L619.5,756.0Z" fill="#c18fea"/><path d="M28.5,721.1L33.3,722.6L38.2,724.0L43.1,725.5L48.0,726.9L52.9,728.3L57.7,729.6L62.6,731.0L67.6,732.3L72.5,733.6L77.4,734.9L75.6,741.7L73.9,748.6L72.1,755.4L70.3,762.3L68.6,769.1L66.8,776.0L65.0,782.8L68.1,787.9L71.2,792.9L74.3,798.0L77.5,803.0L80.7,808.0L84.0,813.0L87.2,818.0L90.5,823.0L93.9,828.0L97.2,833.0L100.6,838.0L104.0,842.9L107.5,847.9L111.0,852.8L114.5,857.7L118.1,862.7L118.2,866.0L119.4,869.6L119.7,872.2L122.3,875.2L117.7,878.5L115.4,884.0L112.0,888.3L113.2,894.8L113.3,897.8L109.5,899.3L104.1,898.7L98.6,898.1L93.1,897.5L87.7,896.8L82.2,896.2L76.7,895.5L75.6,892.9L75.9,889.9L75.7,883.9L72.4,878.8L69.9,875.8L67.0,872.4L64.3,872.1L64.1,867.3L60.1,866.7L56.5,864.1L54.6,860.8L49.9,857.4L40.2,854.0L38.4,851.3L39.7,846.2L39.5,841.9L38.9,838.0L34.7,831.7L33.2,827.3L29.9,819.6L30.6,814.6L33.4,812.0L30.3,808.5L27.7,803.5L27.8,798.4L29.1,793.9L27.2,791.3L24.0,788.7L24.7,783.7L22.3,778.7L19.9,771.1L21.1,762.8L22.2,757.1L20.6,752.7L18.4,748.2L18.7,745.0L24.0,740.4L24.6,736.3L27.3,730.2L27.4,725.1ZM41.9,861.8L46.0,861.8L49.8,863.3L48.8,864.7L43.3,864.2ZM60.7,875.7L63.6,877.7L63.9,879.5L61.5,878.1Z" fill="#bb84e8"/><path d="M647.3,679.7L650.1,679.8L650.0,677.3L652.9,670.6L652.8,663.8L653.9,659.3L655.3,652.9L656.7,646.5L658.0,640.1L660.7,642.1L662.8,643.5L668.1,638.9L675.3,641.6L678.0,650.4L680.7,659.2L681.7,661.3L686.2,663.4L687.4,668.1L689.8,669.3L692.3,670.0L694.6,672.8L695.3,673.9L693.4,677.4L690.9,677.3L689.7,681.5L686.9,680.3L686.3,684.2L683.8,682.1L683.6,687.3L680.4,684.8L679.7,688.5L675.8,683.6L675.5,688.8L675.0,693.3L673.2,695.5L670.5,694.6L669.9,699.0L668.0,700.7L664.4,703.1L663.5,706.8L662.6,708.7L661.8,712.7L661.2,713.9L659.0,711.4L656.6,709.5L655.8,706.3L653.6,699.3L651.3,692.2L649.3,686.0Z" fill="#b77fe7"/></g><path d="M29.0,793.2L31.1,792.5L30.8,788.9L33.5,790.0L32.7,795.5L34.4,801.1L32.5,800.6L30.2,795.6Z" fill="#fff"/><path d="M135.8,1019.0L133.9,1014.1L132.0,1009.9L130.9,1007.2L128.6,1002.5" fill="none" stroke="#fff" stroke-width=".8"/><path d="M145.7,1022.7L142.4,1019.2L139.8,1016.5L137.3,1016.7" fill="none" stroke="#fff" stroke-width=".8"/><path d="M133.9,1014.1L136.8,1012.0L136.2,1009.2L133.9,1006.9L131.2,1006.3" fill="none" stroke="#fff" stroke-width=".8"/><path d="M126.3,1008.8L129.3,1008.3L130.9,1007.2" fill="none" stroke="#fff" stroke-width=".8"/><path d="M140.1,1016.4L140.6,1013.8L137.8,1012.3" fill="none" stroke="#fff" stroke-width=".8"/><path d="M147.7,1021.7L145.7,1018.7L143.8,1016.4L141.3,1014.8" fill="none" stroke="#fff" stroke-width=".8"/><path d="M130.3,1015.2L131.6,1011.8L132.0,1009.9" fill="none" stroke="#fff" stroke-width=".8"/><path d="M345.9,1032.5L343.7,1021.1L342.8,1013.0L345.1,1007.3" fill="none" stroke="#fff" stroke-width=".8"/><path d="M350.3,999.7L356.8,994.9L364.0,991.6" fill="none" stroke="#fff" stroke-width=".8"/><path d="M381.1,979.6L378.0,976.4L379.6,972.6L382.5,975.5Z" fill="#fff"/>
<g class="lb"><text x="77.1" y="653.3" textLength="34.2" lengthAdjust="spacingAndGlyphs">31.5%</text><text x="61.6" y="709.0" textLength="35.2" lengthAdjust="spacingAndGlyphs">41.2%</text><text x="125.4" y="725.0" textLength="34.2" lengthAdjust="spacingAndGlyphs">21.3%</text><text x="194.4" y="683.3" textLength="34.2" lengthAdjust="spacingAndGlyphs">32.1%</text><text x="207.3" y="751.0" textLength="38.7" lengthAdjust="spacingAndGlyphs">34.0%</text><text x="296.6" y="685.0" textLength="35.2" lengthAdjust="spacingAndGlyphs">31.0%</text><text x="362.7" y="700.0" textLength="34.2" lengthAdjust="spacingAndGlyphs">30.1%</text><text x="299.7" y="734.0" textLength="30.0" lengthAdjust="spacingAndGlyphs">21.1%</text><text x="418.1" y="731.7" textLength="35.9" lengthAdjust="spacingAndGlyphs">29.7%</text><text x="648.0" y="671.7" textLength="36.5" lengthAdjust="spacingAndGlyphs">67.4%</text><text x="593.8" y="725.0" textLength="37.5" lengthAdjust="spacingAndGlyphs">44.5%</text><text x="638.1" y="742.7" textLength="34.7" lengthAdjust="spacingAndGlyphs">21.9%</text><text x="568.1" y="772.7" textLength="34.2" lengthAdjust="spacingAndGlyphs">45.1%</text><text x="476.1" y="747.3" textLength="35.9" lengthAdjust="spacingAndGlyphs">28.2%</text><text x="94.5" y="790.0" textLength="28.5" lengthAdjust="spacingAndGlyphs">0.7%</text><text x="42.0" y="829.0" textLength="37.5" lengthAdjust="spacingAndGlyphs">63.9%</text><text x="147.1" y="807.3" textLength="36.5" lengthAdjust="spacingAndGlyphs">25.7%</text><text x="136.4" y="886.7" textLength="37.5" lengthAdjust="spacingAndGlyphs">24.5%</text><text x="214.4" y="892.3" textLength="30.2" lengthAdjust="spacingAndGlyphs">14.1%</text><text x="225.2" y="820.0" textLength="36.6" lengthAdjust="spacingAndGlyphs">30.7%</text><text x="300.3" y="783.3" textLength="34.4" lengthAdjust="spacingAndGlyphs">21.9%</text><text x="375.4" y="774.3" textLength="35.9" lengthAdjust="spacingAndGlyphs">23.5%</text><text x="429.4" y="801.7" textLength="37.5" lengthAdjust="spacingAndGlyphs">40.6%</text><text x="317.1" y="832.3" textLength="33.5" lengthAdjust="spacingAndGlyphs">16.7%</text><text x="387.9" y="835.0" textLength="34.5" lengthAdjust="spacingAndGlyphs">41.2%</text><text x="324.7" y="883.3" textLength="38.2" lengthAdjust="spacingAndGlyphs">34.6%</text><text x="389.8" y="895.0" textLength="37.5" lengthAdjust="spacingAndGlyphs">28.0%</text><text x="505.3" y="795.0" textLength="36.9" lengthAdjust="spacingAndGlyphs">42.6%</text><text x="571.4" y="823.3" textLength="33.2" lengthAdjust="spacingAndGlyphs">28.1%</text><text x="487.1" y="838.3" textLength="36.5" lengthAdjust="spacingAndGlyphs">25.3%</text><text x="580.9" y="861.7" textLength="28.7" lengthAdjust="spacingAndGlyphs">17.1%</text><text x="472.1" y="871.0" textLength="36.9" lengthAdjust="spacingAndGlyphs">29.9%</text><text x="554.4" y="894.0" textLength="30.2" lengthAdjust="spacingAndGlyphs">15.1%</text><text x="472.1" y="920.0" textLength="34.2" lengthAdjust="spacingAndGlyphs">27.2%</text><text x="519.3" y="920.0" textLength="33.0" lengthAdjust="spacingAndGlyphs">33.1%</text><text x="308.7" y="953.7" textLength="34.2" lengthAdjust="spacingAndGlyphs">30.1%</text><text x="392.1" y="943.0" textLength="36.8" lengthAdjust="spacingAndGlyphs">30.7%</text><text x="552.8" y="985.3" textLength="36.9" lengthAdjust="spacingAndGlyphs">36.3%</text><text x="56.5" y="979.7" textLength="30.5" lengthAdjust="spacingAndGlyphs">19.1%</text><text x="214.7" y="1031.7" textLength="36.9" lengthAdjust="spacingAndGlyphs">35.3%</text></g>
</svg>
</body></html>
